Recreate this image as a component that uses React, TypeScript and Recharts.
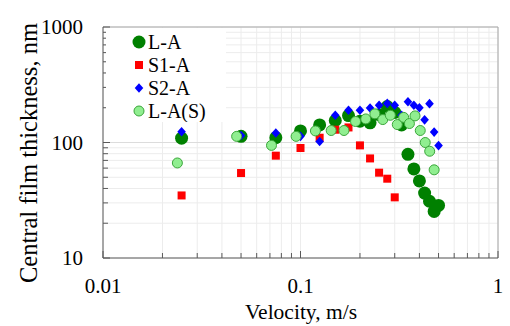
import React from "react"
import {
  ScatterChart,
  Scatter,
  XAxis,
  YAxis,
  CartesianGrid,
  Legend,
  ReferenceLine,
} from "recharts"

// velocities (m/s)
const velocity = [
  0.025, 0.05, 0.075, 0.1, 0.125, 0.15, 0.175, 0.2, 0.225, 0.25, 0.275, 0.3,
  0.325, 0.35, 0.375, 0.4, 0.425, 0.45, 0.475, 0.5,
]
const velocityLAS = [
  0.0238, 0.0475, 0.0713, 0.095, 0.119, 0.143, 0.166, 0.19, 0.214, 0.238, 0.261,
  0.285, 0.309, 0.333, 0.356, 0.38, 0.404, 0.428, 0.451, 0.475,
]

// central film thickness (nm)
const thicknessLA = [
  109, 113, 110, 126, 142, 155, 171, 153, 148, 174, 205, 182, 142, 79, 59,
  46.5, 36.5, 31, 25.3, 28.5,
]
const thicknessS1 = [34.8, 54.4, 76.9, 89.6, 110, 129, 135, 94.4, 72.8, 54.8, 48.6, 33.5]
const thicknessS2 = [
  124, 115, 121, 113, 102, 172, 190, 190, 199, 210, 218, 210, 172, 225, 210,
  200, 157, 217, 123, 94,
]
const thicknessLAS = [
  66.5, 113, 94.4, 113, 126, 127, 127, 152, 160, 177, 158, 172, 143, 165, 146,
  170, 127, 100, 84, 58,
]

const xTicks = [
  0.01, 0.02, 0.03, 0.04, 0.05, 0.06, 0.07, 0.08, 0.09, 0.1, 0.2, 0.3, 0.4,
  0.5, 0.6, 0.7, 0.8, 0.9, 1,
]
const yTicks = [
  10, 20, 30, 40, 50, 60, 70, 80, 90, 100, 200, 300, 400, 500, 600, 700, 800,
  900, 1000,
]
const xMajor = [0.01, 0.1, 1]
const yMajor = [10, 100, 1000]

const toPoints = (xs: number[], ys: number[]) =>
  ys.map((y, i) => ({ x: xs[i], y }))

const dataLA = toPoints(velocity, thicknessLA)
const dataS1 = toPoints(velocity, thicknessS1)
const dataS2 = toPoints(velocity, thicknessS2)
const dataLAS = toPoints(velocityLAS, thicknessLAS)

const FONT = "'Liberation Serif', 'Times New Roman', serif"
const AXIS = "#595959"

const circleLA = (p: any) => <circle cx={p.cx} cy={p.cy} r={6.5} fill="#008000" />
const squareS1 = (p: any) => (
  <rect x={p.cx - 4} y={p.cy - 4} width={8} height={8} fill="#ff0000" />
)
const diamondS2 = (p: any) => (
  <polygon
    points={`${p.cx},${p.cy - 4.8} ${p.cx + 4.3},${p.cy} ${p.cx},${p.cy + 4.8} ${p.cx - 4.3},${p.cy}`}
    fill="#0000ff"
  />
)
const circleLAS = (p: any) => (
  <circle cx={p.cx} cy={p.cy} r={5} fill="#90ee90" stroke="#3aa63a" strokeWidth={1} />
)

function XTick({ x, y, payload }: any) {
  const major = xMajor.includes(payload.value)
  return (
    <g>
      <line x1={x} x2={x} y1={y} y2={y - (major ? 7 : 5)} stroke={AXIS} />
      {major && (
        <text x={x} y={y + 35} textAnchor="middle" fontFamily={FONT} fontSize={21} fill="#000">
          {payload.value}
        </text>
      )}
    </g>
  )
}

function YTick({ x, y, payload }: any) {
  const major = yMajor.includes(payload.value)
  return (
    <g>
      <line x1={x} x2={x + (major ? 7 : 5)} y1={y} y2={y} stroke={AXIS} />
      {major && (
        <text x={x - 20} y={y + 7} textAnchor="end" fontFamily={FONT} fontSize={21} fill="#000">
          {payload.value}
        </text>
      )}
    </g>
  )
}

const legendItems = [
  { name: "L-A", mark: (cx: number, cy: number) => <circle cx={cx} cy={cy} r={6.5} fill="#008000" /> },
  { name: "S1-A", mark: (cx: number, cy: number) => <rect x={cx - 4} y={cy - 4} width={8} height={8} fill="#ff0000" /> },
  {
    name: "S2-A",
    mark: (cx: number, cy: number) => (
      <polygon points={`${cx},${cy - 4.8} ${cx + 4.3},${cy} ${cx},${cy + 4.8} ${cx - 4.3},${cy}`} fill="#0000ff" />
    ),
  },
  {
    name: "L-A(S)",
    mark: (cx: number, cy: number) => (
      <circle cx={cx} cy={cy} r={5} fill="#90ee90" stroke="#3aa63a" strokeWidth={1} />
    ),
  },
]

function LegendBox() {
  return (
    <svg width={120} height={94}>
      <rect width={120} height={94} fill="#fff" />
      {legendItems.map((it, i) => (
        <g key={it.name}>
          {it.mark(33, 14 + i * 23)}
          <text x={42} y={21 + i * 23} fontFamily={FONT} fontSize={20} fill="#000">
            {it.name}
          </text>
        </g>
      ))}
    </svg>
  )
}

export default function App() {
  return (
    <div style={{ position: "absolute", left: 0, top: 0, width: 510, height: 326, background: "#fff" }}>
      <ScatterChart width={510} height={326} margin={{ top: 27, right: 12, bottom: 18, left: 40 }}>
        <CartesianGrid stroke="#ececec" />
        <XAxis
          type="number"
          dataKey="x"
          scale="log"
          domain={[0.01, 1]}
          ticks={xTicks}
          interval={0}
          tick={<XTick />}
          tickLine={false}
          tickSize={0}
          tickMargin={0}
          height={50}
          stroke={AXIS}
          allowDataOverflow
          label={{
            content: () => (
              <text x={301} y={319} textAnchor="middle" fontFamily={FONT} fontSize={21.5} fill="#000">
                Velocity, m/s
              </text>
            ),
          }}
        />
        <YAxis
          type="number"
          dataKey="y"
          scale="log"
          domain={[10, 1000]}
          ticks={yTicks}
          interval={0}
          tick={<YTick />}
          tickLine={false}
          tickSize={0}
          tickMargin={0}
          width={63}
          stroke={AXIS}
          allowDataOverflow
          label={{
            content: () => (
              <text
                x={37}
                y={153}
                transform="rotate(-90 37 153)"
                textAnchor="middle"
                fontFamily={FONT}
                fontSize={24.5}
                fill="#000"
              >
                Central film thickness, nm
              </text>
            ),
          }}
        />
        <ReferenceLine y={100} stroke="#dcdcdc" />
        <ReferenceLine y={1000} stroke="#a6a6a6" />
        <ReferenceLine x={1} stroke="#a6a6a6" />
        <Legend
          layout="vertical"
          align="center"
          verticalAlign="middle"
          content={() => <LegendBox />}
          wrapperStyle={{ left: 106, top: 28, width: 120, height: 94 }}
        />
        <Scatter name="L-A" data={dataLA} shape={circleLA} isAnimationActive={false} />
        <Scatter name="S1-A" data={dataS1} shape={squareS1} isAnimationActive={false} />
        <Scatter name="S2-A" data={dataS2} shape={diamondS2} isAnimationActive={false} />
        <Scatter name="L-A(S)" data={dataLAS} shape={circleLAS} isAnimationActive={false} />
      </ScatterChart>
    </div>
  )
}
